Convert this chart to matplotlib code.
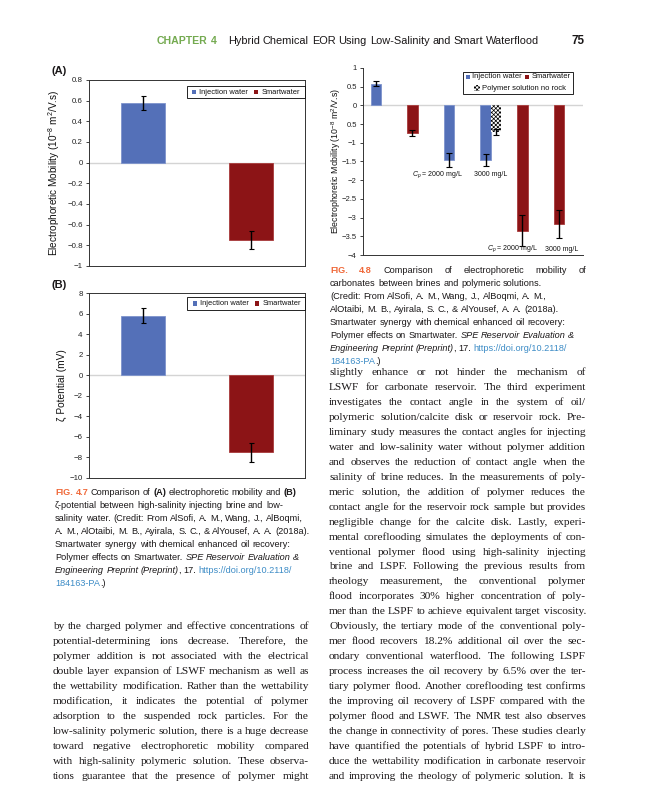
import math
import matplotlib.pyplot as plt
import numpy as np
from matplotlib.patches import Rectangle
from matplotlib.backends.backend_agg import get_hinting_flag

plt.rcParams['font.family'] = ['Liberation Sans', 'DejaVu Sans']
plt.rcParams['mathtext.fontset'] = 'custom'
plt.rcParams['mathtext.rm'] = 'Liberation Sans'
plt.rcParams['mathtext.it'] = 'Liberation Sans:italic'
plt.rcParams['hatch.linewidth'] = 0.5

## Data

# Fig 4.7 (A) electrophoretic mobility, (B) zeta potential
series_names = ['Injection water', 'Smartwater']
mobility_a = [0.575, -0.75]
mobility_a_err = [0.07, 0.09]
zeta_b = [5.8, -7.5]
zeta_b_err = [0.7, 0.9]

# Fig 4.8 brines and polymeric solutions, left to right
case_series = ['Injection water', 'Smartwater', 'Injection water',
               'Injection water', 'Smartwater', 'Smartwater']
mobility_48 = [0.58, -0.74, -1.46, -1.46, -3.35, -3.17]
mobility_48_err = [0.07, 0.09, 0.19, 0.17, 0.42, 0.38]
no_rock_name = 'Polymer solution no rock'
no_rock_case = 3
no_rock_mobility = -0.72
no_rock_err = 0.08
cp_labels = [r'$C_p$ = 2000 mg/L', '3000 mg/L', r'$C_p$ = 2000 mg/L', '3000 mg/L']
cp_label_x = [1.67, 3.14, 3.72, 5.08]
cp_label_y = [-1.84, -1.84, -3.84, -3.84]

ticks_a = [-1, -0.8, -0.6, -0.4, -0.2, 0, 0.2, 0.4, 0.6, 0.8]
ticks_b = [-10, -8, -6, -4, -2, 0, 2, 4, 6, 8]
ticks_48 = [-4, -3.5, -3, -2.5, -2, -1.5, -1, -0.5, 0, 0.5, 1]
# the -0.5 tick is printed without its minus sign in the source figure
ticklabels_48 = ['\u22124', '\u22123.5', '\u22123', '\u22122.5', '\u22122', '\u22121.5',
                 '\u22121', '0.5', '0', '0.5', '1']

BLUE = '#5470B8'
RED = '#8C1416'
ORANGE = '#F0693A'
GREEN = '#74AA50'
LINK = '#3D8CC6'
INK = '#1a1718'
colors = {'Injection water': BLUE, 'Smartwater': RED}
edges = {'Injection water': '#7d93cc', 'Smartwater': '#a83a3a'}

W, H = 648, 800
fig = plt.figure(figsize=(W / 100, H / 100), dpi=100)
renderer = fig.canvas.get_renderer()


def box(l, t, r, b):
    # pixel box -> figure fraction rect
    return [l / W, 1 - b / H, (r - l) / W, (b - t) / H]


def fmt(v):
    return ('%g' % round(v, 2)).replace('-', '\u2212')


def style_axis(ax, ticks, labels=None, size=5.7):
    ax.set_xticks([])
    ax.set_yticks(ticks)
    ax.set_yticklabels(labels if labels else [fmt(t) for t in ticks])
    ax.set_ylim(ticks[0], ticks[-1])
    ax.tick_params(axis='y', length=2, width=0.6, labelsize=size, pad=2.5, colors='#222222')
    ax.axhline(0, color='#d4d4d4', lw=1.0, zorder=0)


def px_square(x, yc, size, **kw):
    r = Rectangle((x / W, 1 - (yc + size / 2) / H), size / W, size / H,
                  transform=fig.transFigure, **kw)
    fig.add_artist(r)


def px_text(x, y, s, **kw):
    return fig.text(x / W, 1 - y / H, s, **kw)


def legend_box(l, t, r, b, entries, size):
    # entries: (square x, row centre y, face, hatch, label, text x)
    fig.add_artist(Rectangle((l / W, 1 - b / H), (r - l) / W, (b - t) / H,
                             transform=fig.transFigure, facecolor='white',
                             edgecolor='black', linewidth=0.6, zorder=5))
    for sx, yc, face, hatch, label, tx in entries:
        if hatch:
            px_square(sx, yc, 5.5, facecolor='white', edgecolor='black', hatch=hatch,
                      linewidth=0, zorder=6)
        else:
            px_square(sx, yc, 4.2, facecolor=face, edgecolor='none', zorder=6)
        px_text(tx, yc, label, fontsize=size, va='center', ha='left', color='#111111', zorder=6)


err_kw = dict(ecolor='black', elinewidth=1.0, capsize=1.8, capthick=0.8)
err_kw8 = dict(ecolor='black', elinewidth=1.0, capsize=2.4, capthick=0.8)

########## Fig 4.7 (A) ##########
axa = fig.add_axes(box(89, 80, 305, 266))
xa = np.arange(len(series_names))
axa.bar(xa, mobility_a, width=0.4, color=[colors[s] for s in series_names],
        edgecolor=[edges[s] for s in series_names], linewidth=0.6,
        yerr=mobility_a_err, error_kw=err_kw)
axa.set_xlim(-0.5, 1.5)
style_axis(axa, ticks_a)
axa.set_ylabel('Electrophoretic Mobility (10$^{-8}$ m$^{2}$/V.s)', fontsize=7.2, color='#111111')
axa.yaxis.set_label_coords(-0.125, 0.5)
for sp in axa.spines.values():
    sp.set_linewidth(0.7)
    sp.set_color('#333333')
legend_box(187, 86, 305, 98,
           [(192, 92, BLUE, None, series_names[0], 199),
            (254, 92, RED, None, series_names[1], 262)], 5.4)
px_text(52, 74, '(A)', fontsize=8, weight='bold', color=INK)

########## Fig 4.7 (B) ##########
axb = fig.add_axes(box(89, 293, 305, 478))
axb.bar(xa, zeta_b, width=0.4, color=[colors[s] for s in series_names],
        edgecolor=[edges[s] for s in series_names], linewidth=0.6,
        yerr=zeta_b_err, error_kw=err_kw)
axb.set_xlim(-0.5, 1.5)
style_axis(axb, ticks_b)
axb.set_ylabel('\u03b6 Potential (mV)', fontsize=7.3, color='#111111')
axb.yaxis.set_label_coords(-0.10, 0.5)
for sp in axb.spines.values():
    sp.set_linewidth(0.7)
    sp.set_color('#333333')
legend_box(187, 297, 305, 310,
           [(193, 303.5, BLUE, None, series_names[0], 200),
            (255, 303.5, RED, None, series_names[1], 262.5)], 5.4)
px_text(52, 288, '(B)', fontsize=8, weight='bold', color=INK)

########## Fig 4.8 ##########
ax8 = fig.add_axes(box(363, 68, 583, 255))
x8 = np.arange(len(mobility_48))
bw = 0.285
ax8.bar(x8, mobility_48, width=bw, color=[colors[s] for s in case_series],
        edgecolor=[edges[s] for s in case_series], linewidth=0.6,
        yerr=mobility_48_err, error_kw=err_kw8)
ax8.bar(no_rock_case + bw, no_rock_mobility, width=bw, facecolor='white', edgecolor='black',
        hatch='xxxxxxxx', linewidth=0, yerr=no_rock_err, error_kw=err_kw8)
ax8.set_xlim(-0.352, 5.658)
style_axis(ax8, ticks_48, ticklabels_48, size=5.5)
ax8.set_ylabel('Electrophoretic Mobility (10$^{-8}$ m$^{2}$/V.s)', fontsize=6.3, color='#111111')
ax8.yaxis.set_label_coords(-0.09, 0.5)
for k in ['top', 'right']:
    ax8.spines[k].set_visible(False)
for k in ['left', 'bottom']:
    ax8.spines[k].set_linewidth(0.7)
    ax8.spines[k].set_color('#333333')
for t, xx, yy in zip(cp_labels, cp_label_x, cp_label_y):
    ax8.text(xx, yy, t, ha='center', va='center', fontsize=5, color='#111111')
legend_box(463, 72, 573, 94,
           [(466, 77, BLUE, None, 'Injection water', 472.5),
            (525, 77, RED, None, 'Smartwater', 531.5),
            (474, 88, None, 'xxxxxxxx', no_rock_name, 482)], 5.5)

########## page text ##########
SERIF = 'Liberation Serif'
SANS = 'Liberation Sans'


def text_w(s, size, family, **kw):
    t = fig.text(0, 0, s, fontsize=size, family=family, **kw)
    w = t.get_window_extent(renderer).width
    t.remove()
    return w


_space = {}


def space_w(size, family):
    key = (size, family)
    if key not in _space:
        _space[key] = (text_w('x' + ' ' * 10 + 'x', size, family) - text_w('xx', size, family)) / 10
    return _space[key]


def agg_shift(t):
    # Agg snaps every text bitmap on its own; work out how far this word's
    # baseline lands from the requested integer row so words in a line line up
    try:
        font = renderer._prepare_font(t.get_fontproperties())
        font.set_text(t.get_text(), 0, flags=get_hinting_flag())
        _, h26 = font.get_width_height()
        d26 = font.get_descent()
        d = d26 / 64
        a = (h26 - d26) / 64
        return round(d) - (h26 // 64) + math.floor(a)
    except Exception:
        return 0


def word_kw(st):
    kw = dict(color=INK)
    if 'b' in st:
        kw['weight'] = 'bold'
    if 'i' in st:
        kw['style'] = 'italic'
    if 'o' in st:
        kw['color'] = ORANGE
    if 'l' in st:
        kw['color'] = LINK
    if 'g' in st:
        kw['color'] = GREEN
    return kw


def split_runs(runs):
    # -> (word, style, space before it)
    items = []
    pending = False
    for txt, st in runs:
        for k, p in enumerate(txt.split(' ')):
            if p:
                items.append((p, st, k > 0 or pending))
                pending = False
        pending = txt.endswith(' ')
    return items


def put_line(runs, x0, x1, y, size, family, justify):
    items = split_runs(runs)
    yb = round(y)
    arts = [fig.text(0, 1 - yb / H, p, va='baseline', ha='left', fontsize=size,
                     family=family, **word_kw(st))
            for p, st, gap in items]
    widths = [a.get_window_extent(renderer).width for a in arts]
    shifts = [agg_shift(a) for a in arts]
    base = max(set(shifts), key=shifts.count)
    ngap = sum(1 for it in items[1:] if it[2])
    if justify and ngap:
        gw = (x1 - x0 - sum(widths)) / ngap
    else:
        gw = space_w(size, family)
    x = x0
    for i, (a, w) in enumerate(zip(arts, widths)):
        if i and items[i][2]:
            x += gw
        elif i and 'i' in items[i - 1][1] and 'i' not in items[i][1]:
            x -= 1.0  # italic overhang
        a.set_position((x / W, 1 - (yb - (shifts[i] - base)) / H))
        x += w


def as_runs(line):
    return [(line, '')] if isinstance(line, str) else line


def put_block(lines, x0, x1, y0, step, size, family, justify):
    for i, line in enumerate(lines):
        j = justify if isinstance(justify, bool) else (i in justify)
        put_line(as_runs(line), x0, x1, y0 + i * step, size, family, j)


def fit_size(lines, colw, family, cap, min_gap=1.6):
    # largest size at which every line still fits with a minimum word gap
    best = cap
    for line in lines:
        words = line.split()
        w10 = sum(text_w(w, 10, family) for w in words)
        best = min(best, 10 * (colw - (len(words) - 1) * min_gap) / w10)
    return best


# running head
put_line([('CHAPTER 4', 'bg')], 157, 218, 44, 7.6, SANS, False)
put_line([('Hybrid Chemical EOR Using Low-Salinity and Smart Waterflood', '')], 228, 534, 44, 7.9, SANS, False)
put_line([('75', 'b')], 571, 584, 44, 8.4, SANS, False)

cap47 = [
    [('FIG. 4.7', 'bo'), (' Comparison of ', ''), ('(A)', 'b'), (' electrophoretic mobility and ', ''), ('(B)', 'b')],
    '\u03b6-potential between high-salinity injecting brine and low-',
    'salinity water. (Credit: From AlSofi, A. M., Wang, J., AlBoqmi,',
    'A. M., AlOtaibi, M. B., Ayirala, S. C., & AlYousef, A. A. (2018a).',
    'Smartwater synergy with chemical enhanced oil recovery:',
    [('Polymer effects on Smartwater. ', ''), ('SPE Reservoir Evaluation &', 'i')],
    [('Engineering Preprint (Preprint)', 'i'), (', 17. ', ''), ('https://doi.org/10.2118/', 'l')],
    [('184163-PA', 'l'), ('.)', '')],
]
put_block(cap47, 55, 309, 495, 13, 6.6, SANS, [])

cap48 = [
    [('FIG. 4.8', 'bo'), (' Comparison of electrophoretic mobility of', '')],
    'carbonates between brines and polymeric solutions.',
    '(Credit: From AlSofi, A. M., Wang, J., AlBoqmi, A. M.,',
    'AlOtaibi, M. B., Ayirala, S. C., & AlYousef, A. A. (2018a).',
    'Smartwater synergy with chemical enhanced oil recovery:',
    [('Polymer effects on Smartwater. ', ''), ('SPE Reservoir Evaluation &', 'i')],
    [('Engineering Preprint (Preprint)', 'i'), (', 17. ', ''), ('https://doi.org/10.2118/', 'l')],
    [('184163-PA', 'l'), ('.)', '')],
]
put_block(cap48, 330, 586, 273, 13, 6.6, SANS, [0])

body_left = [
    'by the charged polymer and effective concentrations of',
    'potential-determining ions decrease. Therefore, the',
    'polymer addition is not associated with the electrical',
    'double layer expansion of LSWF mechanism as well as',
    'the wettability modification. Rather than the wettability',
    'modification, it indicates the potential of polymer',
    'adsorption to the suspended rock particles. For the',
    'low-salinity polymeric solution, there is a huge decrease',
    'toward negative electrophoretic mobility compared',
    'with high-salinity polymeric solution. These observa-',
    'tions guarantee that the presence of polymer might',
]
body_right = [
    'slightly enhance or not hinder the mechanism of',
    'LSWF for carbonate reservoir. The third experiment',
    'investigates the contact angle in the system of oil/',
    'polymeric solution/calcite disk or reservoir rock. Pre-',
    'liminary study measures the contact angles for injecting',
    'water and low-salinity water without polymer addition',
    'and observes the reduction of contact angle when the',
    'salinity of brine reduces. In the measurements of poly-',
    'meric solution, the addition of polymer reduces the',
    'contact angle for the reservoir rock sample but provides',
    'negligible change for the calcite disk. Lastly, experi-',
    'mental coreflooding simulates the deployments of con-',
    'ventional polymer flood using high-salinity injecting',
    'brine and LSPF. Following the previous results from',
    'rheology measurement, the conventional polymer',
    'flood incorporates 30% higher concentration of poly-',
    'mer than the LSPF to achieve equivalent target viscosity.',
    'Obviously, the tertiary mode of the conventional poly-',
    'mer flood recovers 18.2% additional oil over the sec-',
    'ondary conventional waterflood. The following LSPF',
    'process increases the oil recovery by 6.5% over the ter-',
    'tiary polymer flood. Another coreflooding test confirms',
    'the improving oil recovery of LSPF compared with the',
    'polymer flood and LSWF. The NMR test also observes',
    'the change in connectivity of pores. These studies clearly',
    'have quantified the potentials of hybrid LSPF to intro-',
    'duce the wettability modification in carbonate reservoir',
    'and improving the rheology of polymeric solution. It is',
]
body_size = min(fit_size(body_left, 309 - 53, SERIF, 8.2), fit_size(body_right, 586 - 329, SERIF, 8.2))
step = 14.96
put_block(body_right, 329, 586, 375, step, body_size, SERIF, True)
put_block(body_left, 53, 309, 779 - 10 * step, step, body_size, SERIF, True)

fig.savefig('out.png', dpi=100, facecolor='white')
